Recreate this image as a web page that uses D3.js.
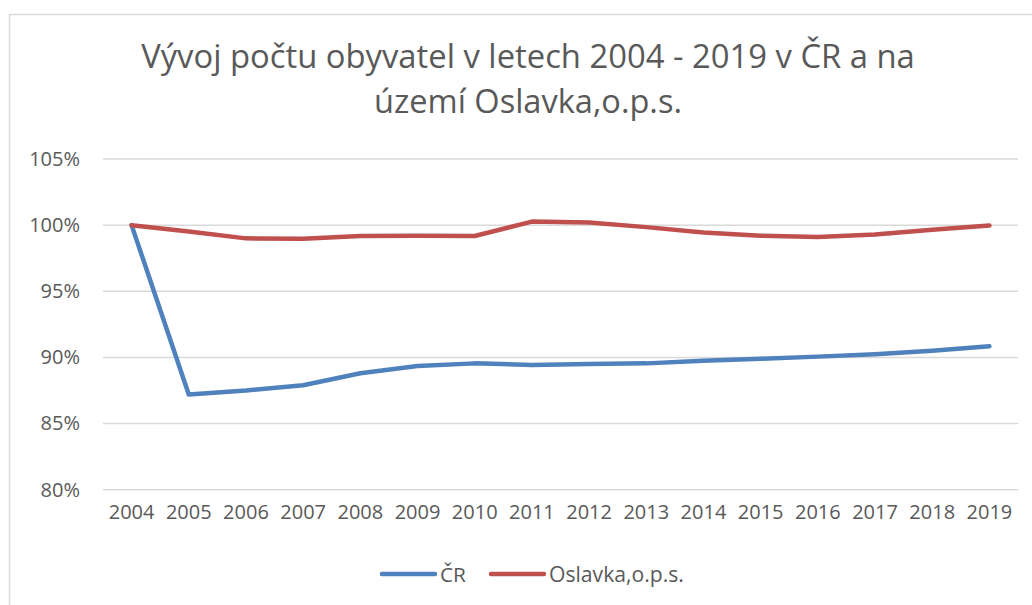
<!DOCTYPE html>
<html>
<head>
<meta charset="utf-8">
<script src="https://cdn.jsdelivr.net/npm/d3@7"></script>
<style>
  body { margin: 0; background: #fff; }
  svg { display: block; }
</style>
</head>
<body>
<div id="chart"></div>
<script>
// Data
const years = ["2004", "2005", "2006", "2007", "2008", "2009", "2010", "2011",
               "2012", "2013", "2014", "2015", "2016", "2017", "2018", "2019"];
const crValues = [100, 87.2, 87.5, 87.9, 88.8, 89.35, 89.55, 89.43,
                  89.5, 89.55, 89.75, 89.9, 90.06, 90.24, 90.5, 90.85];
const oslavkaValues = [100, 99.52, 99.0, 98.98, 99.18, 99.2, 99.18, 100.27,
                       100.2, 99.85, 99.44, 99.2, 99.11, 99.29, 99.65, 99.97];
const yTicks = [80, 85, 90, 95, 100, 105];
const seriesNames = ["ČR", "Oslavka,o.p.s."];
const seriesColors = ["#4F81BD", "#C0504D"];
const titleLines = ["Vývoj počtu obyvatel v letech 2004 - 2019 v ČR a na", "území Oslavka,o.p.s."];

const width = 1032;
const height = 605;
const font = "'Open Sans', 'Noto Sans', sans-serif";
const textColor = "#595959";

const svg = d3.select("#chart")
    .append("svg")
        .attr("width", width)
        .attr("height", height)
        .style("font-family", font);

// chart border (runs off the right and bottom of the screenshot)
svg.append("rect")
    .attr("x", 9.5)
    .attr("y", 14.5)
    .attr("width", 1100)
    .attr("height", 700)
    .attr("fill", "#fff")
    .attr("stroke", "#D9D9D9")
    .attr("stroke-width", 1.5);

// shrink text to a target width if it renders wider
function fitWidth(sel, target) {
    const w = sel.node().getComputedTextLength();
    const size = parseFloat(sel.style("font-size"));
    sel.style("font-size", (size * target / w) + "px");
}

// Title
const titleBase = [68, 113];
const titleWidths = [774, 308];
titleLines.forEach((t, i) => {
    const txt = svg.append("text")
        .attr("x", 528)
        .attr("y", titleBase[i])
        .attr("text-anchor", "middle")
        .attr("fill", textColor)
        .style("font-size", "30px")
        .text(t);
    fitWidth(txt, titleWidths[i]);
});

// Scales
const x = d3.scaleBand()
    .domain(years)
    .range([103, 1018]);

const y = d3.scaleLinear()
    .domain([80, 105])
    .range([489.7, 159]);

// Gridlines
svg.append("g")
    .selectAll("line")
    .data(yTicks)
    .join("line")
        .attr("x1", 103)
        .attr("x2", 1018)
        .attr("y1", d => y(d))
        .attr("y2", d => y(d))
        .attr("stroke", "#D9D9D9")
        .attr("stroke-width", 1.5);

// Y axis
const yAxis = svg.append("g")
    .attr("transform", "translate(80,0)")
    .call(d3.axisLeft(y).tickValues(yTicks).tickSize(0).tickPadding(0).tickFormat(d => d + "%"));
yAxis.select(".domain").remove();
yAxis.selectAll("text")
    .attr("fill", textColor)
    .style("font-family", font)
    .style("font-size", "20px");

// X axis
const xAxis = svg.append("g")
    .attr("transform", "translate(0,505)")
    .call(d3.axisBottom(x).tickSize(0).tickPadding(0));
xAxis.select(".domain").remove();
xAxis.selectAll("text")
    .attr("fill", textColor)
    .style("font-family", font)
    .style("font-size", "20px");

// Lines
const line = d3.line()
    .x((d, i) => x(years[i]) + x.bandwidth() / 2)
    .y(d => y(d));

[crValues, oslavkaValues].forEach((vals, i) => {
    svg.append("path")
        .datum(vals)
        .attr("fill", "none")
        .attr("stroke", seriesColors[i])
        .attr("stroke-width", 4.5)
        .attr("stroke-linejoin", "round")
        .attr("stroke-linecap", "round")
        .attr("d", line);
});

// Legend
const legendX = [382, 491];
const legendTextW = [26, 135];
seriesNames.forEach((name, i) => {
    const g = svg.append("g").attr("transform", `translate(${legendX[i]},574)`);
    g.append("line")
        .attr("x1", 0)
        .attr("x2", 53)
        .attr("stroke", seriesColors[i])
        .attr("stroke-width", 4.5)
        .attr("stroke-linecap", "round");
    const t = g.append("text")
        .attr("x", 58)
        .attr("y", 7.5)
        .attr("fill", textColor)
        .style("font-size", "20px")
        .text(name);
    fitWidth(t, legendTextW[i]);
});
</script>
</body>
</html>
